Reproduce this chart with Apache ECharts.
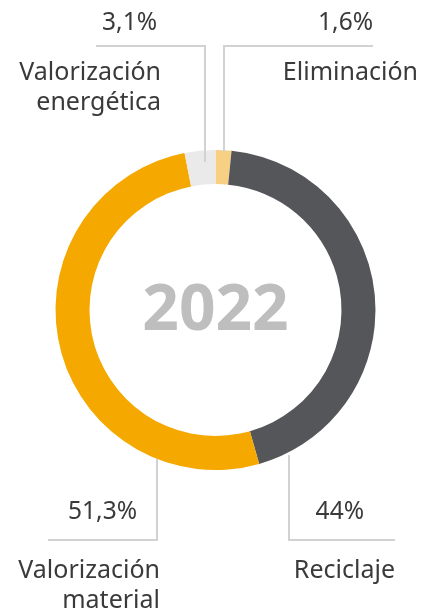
<!DOCTYPE html>
<html><head><meta charset="utf-8">
<script src="https://cdn.jsdelivr.net/npm/echarts@6/dist/echarts.min.js"></script>
<style>html,body{margin:0;padding:0;background:#fff}#c{width:421px;height:614px}</style>
</head><body><div id="c"></div>
<script>
const categories = ['Eliminación', 'Reciclaje', 'Valorización material', 'Valorización energética'];
const values = [1.6, 44, 51.3, 3.1];
const valueLabels = ['1,6%', '44%', '51,3%', '3,1%'];
const nameLabels = ['Eliminación', 'Reciclaje', 'Valorización\nmaterial', 'Valorización\nenergética'];
const colors = ['#F8D083', '#55565A', '#F5A800', '#EAEAEA'];
const centerTitle = '2022';

const FONT = '"Noto Sans", sans-serif';
const TXT = '#3a3a3a';
const LINE = '#d2d2d2';

function line(points) {
  return { type: 'polyline', z: 10, shape: { points }, style: { stroke: LINE, lineWidth: 2, fill: null } };
}
function text(str, x, y, size, align) {
  return { type: 'text', z: 10, x, y, style: { text: str, font: size + 'px ' + FONT, fill: TXT, align: align || 'right', verticalAlign: 'middle', lineHeight: 30 } };
}

const chart = echarts.init(document.getElementById('c'));
chart.setOption({
  animation: false,
  series: [{
    type: 'pie',
    center: [215.5, 310],
    radius: [126, 160],
    startAngle: 90,
    clockwise: true,
    silent: true,
    label: { show: false },
    labelLine: { show: false },
    data: categories.map((c, i) => ({ name: c, value: values[i], itemStyle: { color: colors[i] } }))
  }],
  graphic: [
    { type: 'text', z: 10, x: 215.5, y: 312, style: { text: centerTitle, font: 'bold 64px ' + FONT, fill: '#BEBEBE', align: 'center', verticalAlign: 'middle' } },
    // Valorización energética
    line([[96, 46], [205, 46], [205, 162]]),
    text(valueLabels[3], 157, 23, 24.5),
    text(nameLabels[3], 161, 88, 25),
    // Eliminación
    line([[373, 46], [224, 46], [224, 152]]),
    text(valueLabels[0], 373, 23, 24.5),
    text(nameLabels[0], 418, 73, 25),
    // Valorización material
    line([[157, 459], [157, 540], [48, 540]]),
    text(valueLabels[2], 137, 512, 24.5),
    text(nameLabels[2], 160, 586, 25),
    // Reciclaje
    line([[289, 455], [289, 540], [395, 540]]),
    text(valueLabels[1], 364, 512, 24.5),
    text(nameLabels[1], 395, 571, 25)
  ]
});
</script></body></html>
